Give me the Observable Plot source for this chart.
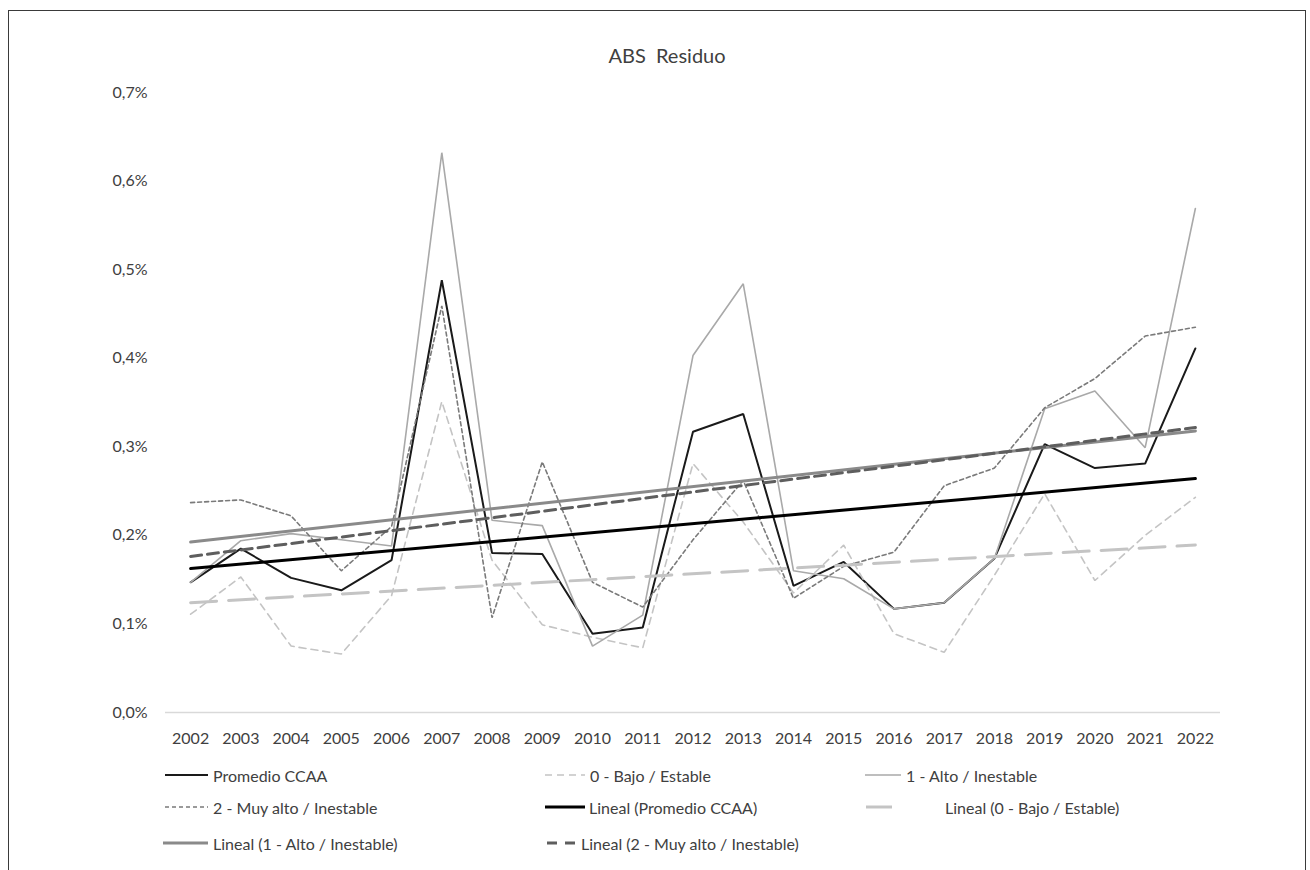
<!DOCTYPE html>
<html>
<head>
<meta charset="utf-8">
<script src="https://cdn.jsdelivr.net/npm/d3@7"></script>
<script src="https://cdn.jsdelivr.net/npm/@observablehq/plot@0.6"></script>
<style>
  html, body { margin: 0; padding: 0; background: #fff; }
  body { width: 1310px; height: 870px; position: relative; overflow: hidden; font-family: Lato, "Open Sans", sans-serif; color: #404040; }
  #frame { position: absolute; left: 8px; top: 10px; width: 1298px; height: 900px; border: 1px solid #3a3a3a; box-sizing: border-box; }
  #title { position: absolute; left: 467px; width: 400px; top: 43px; text-align: center; font-size: 20px; white-space: pre; color: #404040; }
  #chart { position: absolute; left: 0; top: 80px; }
  .leg { position: absolute; display: flex; align-items: center; font-size: 16px; white-space: pre; color: #404040; }
  .leg svg { display: block; }
</style>
</head>
<body>
<div id="frame"></div>
<div id="title">ABS  Residuo</div>
<div id="chart"></div>
<div id="legend"></div>
<script>
// ---- data (values in %) ----
const years = [2002, 2003, 2004, 2005, 2006, 2007, 2008, 2009, 2010, 2011, 2012, 2013, 2014, 2015, 2016, 2017, 2018, 2019, 2020, 2021, 2022];
const promedio = [0.147, 0.185, 0.152, 0.138, 0.172, 0.488, 0.180, 0.179, 0.089, 0.096, 0.317, 0.337, 0.143, 0.170, 0.117, 0.124, 0.174, 0.303, 0.276, 0.281, 0.411];
const bajo     = [0.111, 0.153, 0.075, 0.066, 0.132, 0.351, 0.172, 0.099, 0.085, 0.073, 0.281, 0.215, 0.135, 0.189, 0.089, 0.068, 0.155, 0.247, 0.149, 0.200, 0.243];
const alto     = [0.147, 0.194, 0.202, 0.195, 0.188, 0.632, 0.217, 0.211, 0.075, 0.110, 0.403, 0.484, 0.160, 0.151, 0.117, 0.124, 0.174, 0.343, 0.363, 0.299, 0.569];
const muyAlto  = [0.237, 0.240, 0.222, 0.160, 0.210, 0.459, 0.107, 0.283, 0.147, 0.119, 0.195, 0.262, 0.129, 0.165, 0.181, 0.256, 0.276, 0.344, 0.377, 0.425, 0.435];
const yTicks = [0, 0.1, 0.2, 0.3, 0.4, 0.5, 0.6, 0.7];
const seriesNames = ["Promedio CCAA", "0 - Bajo / Estable", "1 - Alto / Inestable", "2 - Muy alto / Inestable"];

// ---- styles ----
const seriesStyle = {
  "Promedio CCAA": {stroke: "#1a1a1a", strokeWidth: 2, strokeDasharray: null},
  "0 - Bajo / Estable": {stroke: "#c4c4c4", strokeWidth: 1.6, strokeDasharray: "7,5"},
  "1 - Alto / Inestable": {stroke: "#a9a9a9", strokeWidth: 1.6, strokeDasharray: null},
  "2 - Muy alto / Inestable": {stroke: "#7a7a7a", strokeWidth: 1.6, strokeDasharray: "4,3"}
};
const trendStyle = {
  "Promedio CCAA": {stroke: "#000000", strokeWidth: 3, strokeDasharray: null},
  "0 - Bajo / Estable": {stroke: "#c4c4c4", strokeWidth: 3, strokeDasharray: "26,12"},
  "1 - Alto / Inestable": {stroke: "#8a8a8a", strokeWidth: 3, strokeDasharray: null},
  "2 - Muy alto / Inestable": {stroke: "#5e5e5e", strokeWidth: 3, strokeDasharray: "11,6"}
};

const valuesBySeries = [promedio, bajo, alto, muyAlto];
const tables = seriesNames.map((name, i) => years.map((yr, j) => ({year: yr, value: valuesBySeries[i][j], series: name})));

const fmt = d => d.toFixed(1).replace(".", ",") + "%";

const marks = [
  Plot.ruleY([0], {stroke: "#d9d9d9", strokeWidth: 1.3})
];
tables.forEach((t, i) => {
  const s = seriesStyle[seriesNames[i]];
  marks.push(Plot.line(t, {x: "year", y: "value", stroke: s.stroke, strokeWidth: s.strokeWidth, strokeDasharray: s.strokeDasharray, strokeLinejoin: "miter"}));
});
tables.forEach((t, i) => {
  const s = trendStyle[seriesNames[i]];
  marks.push(Plot.linearRegressionY(t, {x: "year", y: "value", ci: 0, stroke: s.stroke, strokeWidth: s.strokeWidth, strokeDasharray: s.strokeDasharray}));
});

const chart = Plot.plot({
  width: 1310,
  height: 680,
  marginTop: 12,
  marginBottom: 48,
  marginLeft: 165,
  marginRight: 90,
  style: {fontFamily: "Lato, 'Open Sans', sans-serif", fontSize: "16px", color: "#404040", background: "transparent", overflow: "visible"},
  x: {domain: [2001.5, 2022.5], ticks: years, tickFormat: d => String(d), tickSize: 0, tickPadding: 20, label: null},
  y: {domain: [0, 0.7], ticks: yTicks, tickFormat: fmt, tickSize: 0, tickPadding: 18, label: null},
  marks
});
document.getElementById("chart").appendChild(chart);

// ---- legend ----
const legendItems = [
  {label: "Promedio CCAA", st: seriesStyle["Promedio CCAA"], x: 165, y: 775, sw: 43, gap: 5},
  {label: "0 - Bajo / Estable", st: seriesStyle["0 - Bajo / Estable"], x: 545, y: 775, sw: 40, gap: 5},
  {label: "1 - Alto / Inestable", st: seriesStyle["1 - Alto / Inestable"], x: 865, y: 775, sw: 36, gap: 5},
  {label: "2 - Muy alto / Inestable", st: seriesStyle["2 - Muy alto / Inestable"], x: 165, y: 807, sw: 43, gap: 5},
  {label: "Lineal (Promedio CCAA)", st: trendStyle["Promedio CCAA"], x: 545, y: 807, sw: 40, gap: 4},
  {label: "Lineal (0 - Bajo / Estable)", st: trendStyle["0 - Bajo / Estable"], x: 866, y: 807, sw: 26, gap: 53},
  {label: "Lineal (1 - Alto / Inestable)", st: trendStyle["1 - Alto / Inestable"], x: 163, y: 843, sw: 45, gap: 5},
  {label: "Lineal (2 - Muy alto / Inestable)", st: {stroke: "#5e5e5e", strokeWidth: 3, strokeDasharray: "10,8"}, x: 547, y: 843, sw: 30, gap: 4}
];
const legend = document.getElementById("legend");
legendItems.forEach(it => {
  const div = document.createElement("div");
  div.className = "leg";
  div.style.left = it.x + "px";
  div.style.top = (it.y - 11) + "px";
  div.style.height = "22px";
  const dash = it.st.strokeDasharray ? `stroke-dasharray="${it.st.strokeDasharray}"` : "";
  div.innerHTML = `<svg width="${it.sw}" height="10"><line x1="0" y1="5" x2="${it.sw}" y2="5" stroke="${it.st.stroke}" stroke-width="${it.st.strokeWidth}" ${dash}/></svg><span style="margin-left:${it.gap}px">${it.label}</span>`;
  legend.appendChild(div);
});
</script>
</body>
</html>
